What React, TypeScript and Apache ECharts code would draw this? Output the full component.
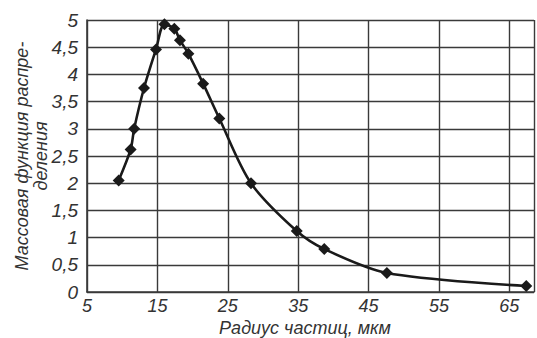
import React, { useEffect, useRef } from "react";
import * as echarts from "echarts";

const radius = [9.5, 11.2, 11.7, 13.1, 14.8, 16.0, 17.4, 18.2, 19.4, 21.5, 23.8, 28.3, 34.8, 38.7, 47.6, 67.4];
const massFn = [2.05, 2.62, 3.0, 3.75, 4.46, 4.92, 4.84, 4.63, 4.38, 3.83, 3.19, 2.0, 1.12, 0.79, 0.35, 0.11];
const yTitle = "Массовая функция распре-\nделения";
const xTitle = "Радиус частиц, мкм";

const FONT = "'Liberation Sans', Arial, sans-serif";
const GRID = "#3a3a3a";

export default function App() {
  const ref = useRef<HTMLDivElement>(null);
  useEffect(() => {
    if (!ref.current) return;
    const chart = echarts.init(ref.current, null, { renderer: "svg" });
    const fmt = (v: number) => String(v).replace(".", ",");
    chart.setOption({
      animation: false,
      backgroundColor: "#ffffff",
      grid: { left: 87, top: 20, width: 447, height: 272, containLabel: false },
      xAxis: {
        type: "value",
        min: 5,
        max: 68.5,
        interval: 10,
        axisLine: { show: true, lineStyle: { color: GRID, width: 1.6 } },
        axisTick: { show: false },
        splitLine: { show: true, lineStyle: { color: GRID, width: 1.4 } },
        axisLabel: {
          showMaxLabel: false,
          margin: 5,
          color: "#333",
          fontSize: 18,
          fontStyle: "italic",
          fontFamily: FONT,
        },
      },
      yAxis: {
        type: "value",
        min: 0,
        max: 5,
        interval: 0.5,
        axisLine: { show: true, lineStyle: { color: GRID, width: 1.6 } },
        axisTick: { show: false },
        splitLine: { show: true, lineStyle: { color: GRID, width: 1.4 } },
        axisLabel: {
          margin: 9,
          color: "#333",
          fontSize: 19,
          fontStyle: "italic",
          fontFamily: FONT,
          formatter: fmt,
        },
      },
      graphic: [
        {
          type: "text",
          x: 31,
          y: 156,
          rotation: Math.PI / 2,
          style: {
            text: yTitle,
            fill: "#333",
            font: `italic 18px ${FONT}`,
            textAlign: "center",
            textVerticalAlign: "middle",
            lineHeight: 19,
          },
        },
        {
          type: "text",
          x: 305,
          y: 328,
          style: {
            text: xTitle,
            fill: "#333",
            font: `italic 18px ${FONT}`,
            textAlign: "center",
            textVerticalAlign: "middle",
          },
        },
      ],
      series: [
        {
          type: "line",
          data: radius.map((r, i) => [r, massFn[i]]),
          smooth: 0.3,
          symbol: "diamond",
          symbolSize: 12,
          itemStyle: { color: "#1a1a1a" },
          lineStyle: { color: "#1a1a1a", width: 2.6 },
        },
      ],
    });
    return () => chart.dispose();
  }, []);
  return (
    <div
      ref={ref}
      style={{ position: "fixed", left: 0, top: 0, width: 537, height: 338 }}
    />
  );
}
